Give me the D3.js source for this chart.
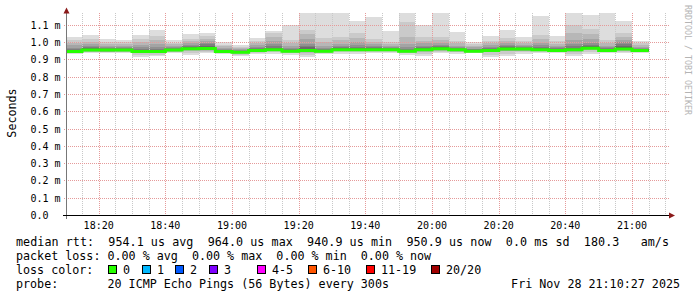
<!DOCTYPE html>
<html>
<head>
<meta charset="utf-8">
<script src="https://cdn.jsdelivr.net/npm/d3@7"></script>
<style>
body { margin: 0; background: #fff; }
text { font-family: "DejaVu Sans Mono", monospace; fill: #000; }
</style>
</head>
<body>
<script>
// end time of each 5 minute step (20 pings per step)
var stepEnds = ["18:15","18:20","18:25","18:30","18:35","18:40","18:45","18:50","18:55",
  "19:00","19:05","19:10","19:15","19:20","19:25","19:30","19:35","19:40","19:45","19:50","19:55",
  "20:00","20:05","20:10","20:15","20:20","20:25","20:30","20:35","20:40","20:45","20:50","20:55",
  "21:00","21:05"];

// sorted ping times per step, microseconds
var pings = [
  [931,935,937,938,940,941,942,943,944,945,946,948,951,955,960,968,982,996,1012,1031],
  [936,942,945,947,949,950,951,952,953,954,955,957,960,964,970,978,990,1002,1015,1038],
  [935,940,943,945,946,947,948,949,951,953,955,957,959,962,966,972,980,990,1000,1019],
  [937,942,945,947,949,950,951,952,953,954,955,956,958,961,965,970,978,988,998,1012],
  [911,925,934,937,939,941,942,943,944,945,946,948,951,955,961,970,983,998,1015,1042],
  [917,928,935,938,940,941,942,943,944,945,946,948,951,955,962,972,990,1010,1035,1071],
  [934,941,945,947,949,950,951,952,953,954,955,956,958,961,965,970,977,986,995,1012],
  [924,935,948,952,955,957,958,959,960,961,962,964,967,971,976,983,993,1006,1020,1048],
  [936,945,951,954,957,958,959,960,961,962,963,966,972,980,988,996,1004,1018,1035,1054],
  [932,936,938,940,941,942,943,944,944,945,946,947,949,952,956,961,967,975,985,998],
  [917,928,933,935,937,938,939,940,940,941,942,943,945,947,950,954,959,965,972,984],
  [930,938,942,944,946,947,948,949,950,951,952,954,956,960,965,972,981,992,1005,1025],
  [930,940,946,948,950,951,952,953,954,955,956,958,962,968,976,988,1005,1028,1052,1065],
  [928,936,939,941,943,944,944,945,945,946,947,949,951,955,960,967,977,992,1010,1096],
  [911,925,938,942,945,947,948,949,950,951,952,955,962,970,980,990,1020,1046,1071,1200],
  [930,936,939,941,943,944,944,945,945,946,947,949,951,955,960,968,980,1000,1023,1200],
  [930,940,946,948,950,951,952,953,954,955,956,958,961,965,971,979,991,1010,1032,1200],
  [930,940,946,948,950,951,952,953,954,955,956,958,961,966,973,983,998,1025,1055,1123],
  [936,942,946,948,950,951,952,953,954,955,956,958,960,964,969,976,986,1000,1017,1146],
  [936,942,946,948,950,951,952,953,954,955,956,957,959,962,966,971,979,990,1003,1065],
  [928,936,939,941,943,944,944,945,945,946,947,949,952,956,962,972,990,1030,1117,1200],
  [917,932,944,947,950,951,952,953,954,955,956,958,961,965,971,979,992,1008,1027,1096],
  [936,945,951,954,956,957,958,959,960,961,962,964,967,971,977,985,997,1013,1032,1200],
  [932,940,945,948,950,951,952,953,954,955,956,957,959,962,966,972,980,992,1007,1060],
  [936,938,940,941,942,943,944,945,945,946,947,948,950,953,957,962,969,979,990,1000],
  [911,926,940,943,946,947,948,949,950,951,952,954,956,960,965,972,981,992,1005,1036],
  [917,932,947,951,954,956,957,958,959,960,961,963,966,970,976,984,995,1008,1023,1071],
  [930,940,947,951,954,956,957,958,959,960,961,963,965,968,972,977,984,994,1005,1029],
  [934,941,946,948,950,951,952,953,954,955,956,958,961,966,973,982,995,1016,1042,1148],
  [934,940,943,945,947,948,949,950,950,951,952,954,956,959,964,970,978,990,1005,1036],
  [917,932,944,947,950,951,952,953,954,955,956,958,962,968,977,990,1012,1050,1100,1200],
  [930,944,953,957,959,960,961,962,963,964,965,967,971,977,985,996,1015,1045,1077,1154],
  [936,941,943,945,947,948,949,950,950,951,952,954,956,959,964,970,979,994,1013,1200],
  [934,943,949,952,955,956,957,958,959,960,961,964,970,978,988,1000,1012,1030,1052,1123],
  [936,940,943,945,947,948,949,950,950,951,952,953,955,958,962,967,974,984,995,1008]
];

// lost pings per step
var loss = [0,0,0,0,0,0,0,0,0,0,0,0,0,0,0,0,0,0,0,0,0,0,0,0,0,0,0,0,0,0,0,0,0,0,0];

var yTicks = [0, 0.1, 0.2, 0.3, 0.4, 0.5, 0.6, 0.7, 0.8, 0.9, 1.0, 1.1];
var xTicks = ["18:20","18:40","19:00","19:20","19:40","20:00","20:20","20:40","21:00"];

var lossLabels = ["0","1","2","3","4-5","6-10","11-19","20/20"];
var lossMax    = [0, 1, 2, 3, 5, 10, 19, 20];
var lossColors = ["#26ff00","#00b8ff","#0059ff","#7e00ff","#ff00ff","#ff5500","#ff0000","#a10000"];

var rttSummary  = [954.1, 964.0, 940.9, 950.9]; // avg max min now (us)
var rttSd = 0.0, amS = 180.3;
var lossSummary = [0.00, 0.00, 0.00, 0.00];
var probeText = "20 ICMP Echo Pings (56 Bytes) every 300s";
var nowText = "Fri Nov 28 21:10:27 2025";

// layout
var w = 697, h = 297;
var plotL = 67, plotR = 667, plotT = 13, plotB = 215;
var boxX = [108, 142, 175, 209, 257, 308, 366, 431];

var parse = d3.timeParse("%Y-%m-%d %H:%M:%S");
function t(s) { return parse("2025-11-28 " + (s.length == 5 ? s + ":00" : s)); }

var x = d3.scaleTime().domain([t("18:10:30"), t("21:10:30")]).range([plotL, plotR]);
var y = d3.scaleLinear().domain([0, 1.168]).range([plotB, plotT]);

var svg = d3.select("body").append("svg")
  .attr("width", w)
  .attr("height", h);

svg.append("rect").attr("width", w).attr("height", h).attr("fill", "#fff");

svg.append("clipPath").attr("id", "plot")
  .append("rect").attr("x", plotL).attr("y", plotT).attr("width", plotR - plotL).attr("height", plotB - plotT);

// smoke
var bars = stepEnds.map(function(s, i) {
  var end = t(s);
  var start = d3.timeMinute.offset(end, -5);
  return {
    x0: Math.max(x(start), plotL),
    x1: x(end),
    p: pings[i].map(function(v) { return v / 1000; }),
    loss: loss[i]
  };
});

var smoke = svg.append("g").attr("clip-path", "url(#plot)").attr("shape-rendering", "crispEdges");
bars.forEach(function(b) {
  for (var k = 0; k < 10; k++) {
    var c = Math.floor(190 / 10 * (10 - (k + 1))) + 50;
    smoke.append("rect")
      .attr("x", b.x0)
      .attr("width", b.x1 - b.x0)
      .attr("y", y(b.p[19 - k]))
      .attr("height", y(b.p[k]) - y(b.p[19 - k]))
      .attr("fill", d3.rgb(c, c, c));
  }
});

// grid
var grid = svg.append("g").attr("shape-rendering", "crispEdges");
var minor = d3.timeMinute.every(5).range(t("18:15"), t("21:11"));
var majorSet = xTicks.map(function(s) { return +t(s); });

grid.selectAll("line.minor")
  .data(minor.filter(function(d) { return majorSet.indexOf(+d) < 0; }))
  .enter().append("line")
  .attr("class", "minor")
  .attr("x1", function(d) { return Math.round(x(d)) + 0.5; })
  .attr("x2", function(d) { return Math.round(x(d)) + 0.5; })
  .attr("y1", plotT).attr("y2", plotB)
  .style("stroke", "#c8c8c8").style("stroke-dasharray", "1,1");

grid.selectAll("line.major")
  .data(xTicks)
  .enter().append("line")
  .attr("class", "major")
  .attr("x1", function(d) { return Math.round(x(t(d))) + 0.5; })
  .attr("x2", function(d) { return Math.round(x(t(d))) + 0.5; })
  .attr("y1", plotT).attr("y2", plotB)
  .style("stroke", "#e59a9a").style("stroke-dasharray", "1,1");

grid.selectAll("line.h")
  .data(yTicks.filter(function(d) { return d > 0; }))
  .enter().append("line")
  .attr("class", "h")
  .attr("x1", plotL - 3).attr("x2", plotR + 3)
  .attr("y1", function(d) { return Math.round(y(d)) + 0.5; })
  .attr("y2", function(d) { return Math.round(y(d)) + 0.5; })
  .style("stroke", "#e59a9a").style("stroke-dasharray", "1,1");

// median line, coloured by loss
var pts = bars.map(function(b) { return [b.x0, (b.p[9] + b.p[10]) / 2]; });
pts.push([bars[bars.length - 1].x1, pts[pts.length - 1][1]]);
var worst = d3.max(loss);
var ci = lossMax.findIndex(function(m) { return worst <= m; });
svg.append("path")
  .attr("clip-path", "url(#plot)")
  .attr("d", d3.line().x(function(d) { return d[0]; }).y(function(d) { return y(d[1]); }).curve(d3.curveStepAfter)(pts))
  .style("fill", "none")
  .style("stroke", lossColors[ci])
  .style("stroke-width", 3);

// axes
svg.append("line").attr("x1", plotL - 0.5).attr("x2", plotL - 0.5).attr("y1", 9).attr("y2", plotB + 4)
  .style("stroke", "#777");
svg.append("line").attr("x1", plotL - 4).attr("x2", plotR + 3).attr("y1", plotB + 0.5).attr("y2", plotB + 0.5)
  .style("stroke", "#000");
svg.append("path").attr("d", "M63.5,13.5L69.5,13.5L66.5,7.5Z").attr("fill", "#8b1a1a");
svg.append("path").attr("d", "M669,212.5L669,218.5L675,215.5Z").attr("fill", "#8b1a1a");

svg.selectAll("text.y")
  .data(yTicks)
  .enter().append("text")
  .attr("class", "y")
  .attr("x", 30.5)
  .attr("y", function(d) { return Math.round(y(d)) + 4; })
  .style("font-size", "10px")
  .text(function(d) { return d === 0 ? "0.0" : d.toFixed(1) + " m"; });

svg.selectAll("text.x")
  .data(xTicks)
  .enter().append("text")
  .attr("class", "x")
  .attr("x", function(d) { return x(t(d)); })
  .attr("y", 229)
  .attr("text-anchor", "middle")
  .style("font-size", "10px")
  .text(function(d) { return d; });

svg.append("text")
  .attr("transform", "translate(15.5,113) rotate(-90)")
  .attr("text-anchor", "middle")
  .style("font-size", "11.7px")
  .text("Seconds");

svg.append("text")
  .attr("transform", "translate(685,5) rotate(90)")
  .style("font-size", "8.3px")
  .style("fill", "#b4b4b4")
  .text("RRDTOOL / TOBI OETIKER");

// legend
var fs = "11.7px";
var row1 = "median rtt:  " + rttSummary[0].toFixed(1) + " us avg  " + rttSummary[1].toFixed(1) + " us max  " +
  rttSummary[2].toFixed(1) + " us min  " + rttSummary[3].toFixed(1) + " us now  " + rttSd.toFixed(1) +
  " ms sd  " + amS.toFixed(1) + "   am/s";
var row2 = "packet loss: " + lossSummary[0].toFixed(2) + " % avg  " + lossSummary[1].toFixed(2) + " % max  " +
  lossSummary[2].toFixed(2) + " % min  " + lossSummary[3].toFixed(2) + " % now";

svg.append("text").attr("x", 16).attr("y", 245.5).attr("xml:space", "preserve")
  .attr("textLength", 653).attr("lengthAdjust", "spacing")
  .style("font-size", fs).style("white-space", "pre").text(row1);
svg.append("text").attr("x", 16).attr("y", 259.5).attr("xml:space", "preserve")
  .style("font-size", fs).style("white-space", "pre").text(row2);
svg.append("text").attr("x", 16).attr("y", 273.5).style("font-size", fs).text("loss color:");

var lg = svg.append("g");
lossLabels.forEach(function(l, i) {
  lg.append("rect")
    .attr("x", boxX[i] + 0.5).attr("y", 265.5)
    .attr("width", 8).attr("height", 8)
    .attr("fill", lossColors[i])
    .style("stroke", "#000");
  lg.append("text")
    .attr("x", boxX[i] + 15).attr("y", 273.5)
    .style("font-size", fs)
    .text(l);
});

svg.append("text").attr("x", 16).attr("y", 287.5).style("font-size", fs).text("probe:");
svg.append("text").attr("x", 107.5).attr("y", 287.5).style("font-size", fs).text(probeText);
svg.append("text").attr("x", 680).attr("y", 287.5).attr("text-anchor", "end").style("font-size", fs).text(nowText);
</script>
</body>
</html>
